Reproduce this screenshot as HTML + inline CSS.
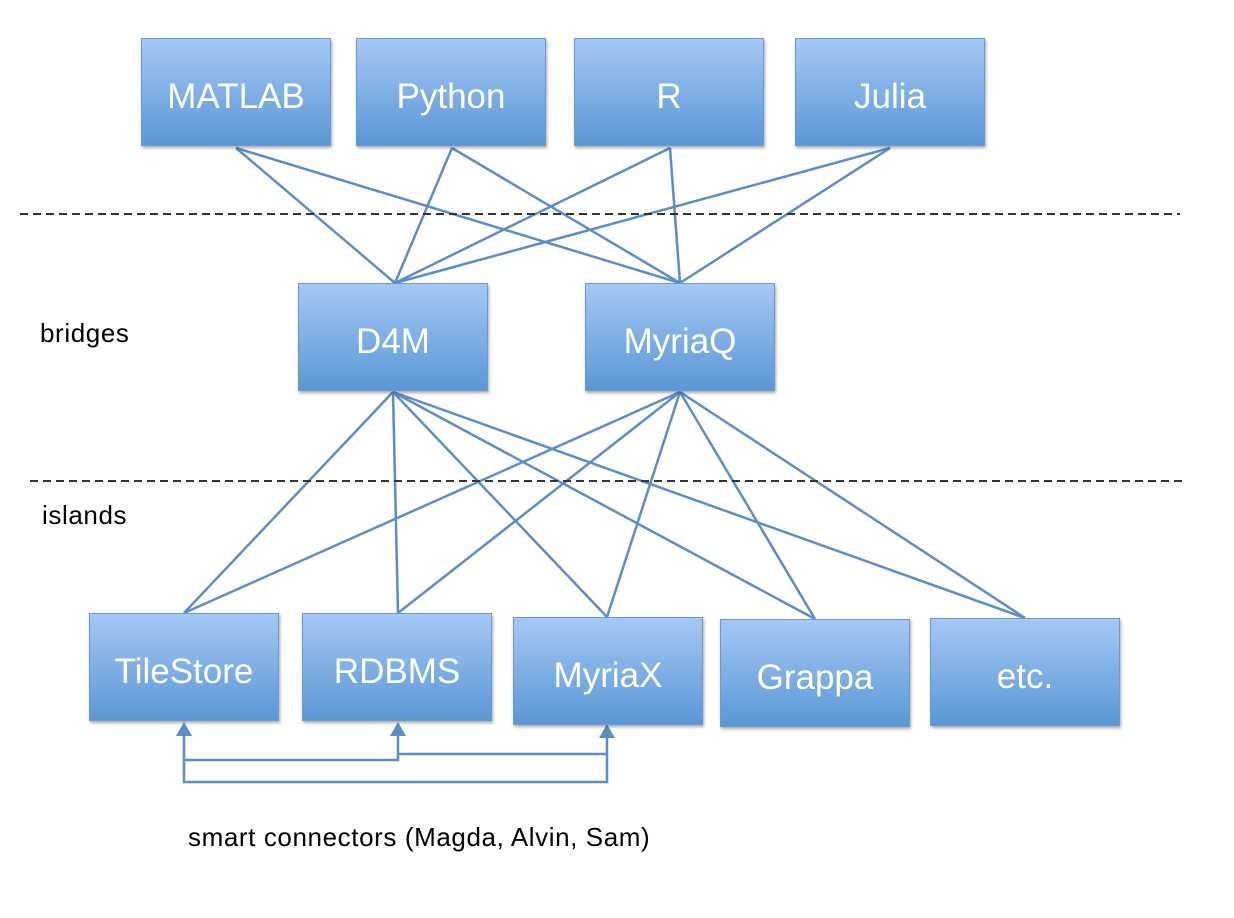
<!DOCTYPE html>
<html><head><style>
body{margin:0;background:#fff;}
.b{position:absolute;width:190px;height:108px;background:linear-gradient(#a5c8f5,#5a97d6);border:1.5px solid #6a9bd0;box-shadow:1px 2px 3px rgba(0,0,0,0.35);color:#fff;font:35px "Liberation Sans",sans-serif;display:flex;align-items:center;justify-content:center;box-sizing:border-box;padding-top:10px;}
.t{position:absolute;font:26px "Liberation Sans",sans-serif;color:#000;letter-spacing:0.6px;}
</style></head><body>
<div style="position:relative;width:1234px;height:918px;overflow:hidden">
<svg width="1234" height="918" style="position:absolute;left:0;top:0">
<g stroke="#5b8ec6" stroke-width="2.5" fill="none">
<line x1="236" y1="148" x2="395" y2="283"/><line x1="236" y1="148" x2="680" y2="283"/>
<line x1="452" y1="148" x2="395" y2="283"/><line x1="452" y1="148" x2="680" y2="283"/>
<line x1="670" y1="148" x2="395" y2="283"/><line x1="670" y1="148" x2="680" y2="283"/>
<line x1="890" y1="148" x2="395" y2="283"/><line x1="890" y1="148" x2="680" y2="283"/>
<line x1="393" y1="392" x2="184" y2="613"/><line x1="393" y1="392" x2="398" y2="613"/><line x1="393" y1="392" x2="607" y2="617"/><line x1="393" y1="392" x2="815" y2="619"/><line x1="393" y1="392" x2="1025" y2="618"/>
<line x1="680" y1="392" x2="184" y2="613"/><line x1="680" y1="392" x2="398" y2="613"/><line x1="680" y1="392" x2="607" y2="617"/><line x1="680" y1="392" x2="815" y2="619"/><line x1="680" y1="392" x2="1025" y2="618"/>
<polyline points="184,728 184,782 607,782 607,730"/>
<polyline points="184,760 398,760 398,728"/>
<line x1="398" y1="754" x2="607" y2="754"/>
</g>
<g fill="#5b8ec6">
<polygon points="176,736 184,722 192,736"/><polygon points="390,736 398,722 406,736"/><polygon points="599,738 607,724 615,738"/>
</g>
<g stroke="#333" stroke-width="2" stroke-dasharray="8,5">
<line x1="20" y1="214" x2="1180" y2="214"/><line x1="30" y1="481" x2="1185" y2="481"/>
</g>
</svg>
<div class="b" style="left:141px;top:38px">MATLAB</div>
<div class="b" style="left:356px;top:38px">Python</div>
<div class="b" style="left:574px;top:38px">R</div>
<div class="b" style="left:795px;top:38px">Julia</div>
<div class="b" style="left:298px;top:283px">D4M</div>
<div class="b" style="left:585px;top:283px">MyriaQ</div>
<div class="b" style="left:89px;top:613px">TileStore</div>
<div class="b" style="left:302px;top:613px">RDBMS</div>
<div class="b" style="left:513px;top:617px">MyriaX</div>
<div class="b" style="left:720px;top:619px">Grappa</div>
<div class="b" style="left:930px;top:618px">etc.</div>
<div class="t" style="left:40px;top:318px">bridges</div>
<div class="t" style="left:42px;top:500px">islands</div>
<div class="t" style="left:188px;top:822px">smart connectors (Magda, Alvin, Sam)</div>
</div>
</body></html>
